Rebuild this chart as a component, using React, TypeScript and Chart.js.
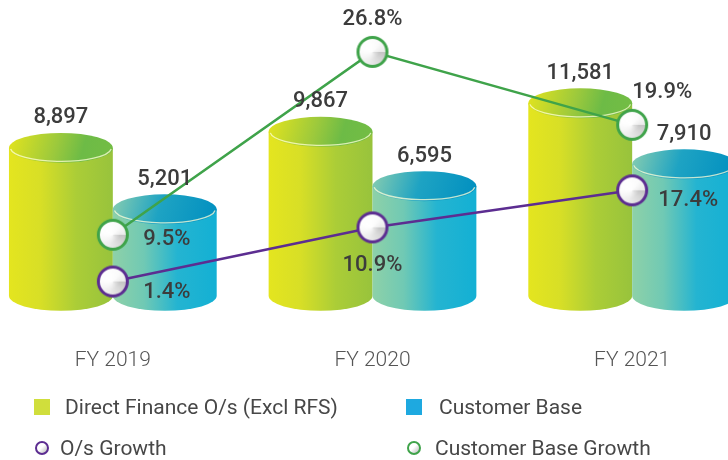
import React, { useEffect, useRef } from 'react';
import { Chart, registerables } from 'chart.js';

Chart.register(...registerables);

// ---------- data ----------
const categories = ['FY 2019', 'FY 2020', 'FY 2021'];
const directFinance = [8897, 9867, 11581];
const customerBase = [5201, 6595, 7910];
const osGrowth = [1.4, 10.9, 17.4];
const customerBaseGrowth = [9.5, 26.8, 19.9];
const seriesNames = [
  'Direct Finance O/s (Excl RFS)',
  'Customer Base',
  'O/s Growth',
  'Customer Base Growth',
];

// ---------- styles ----------
const FONT = 'Roboto, "Noto Sans", "DejaVu Sans", sans-serif';
const GREEN_LINE = '#3fa34a';
const PURPLE_LINE = '#5c2d91';
const LEGEND_GREEN = '#d0de3c';
const LEGEND_BLUE = '#1ea9e0';

const GREEN_BODY: [number, string][] = [[0, '#e4e51f'], [0.3, '#d8df26'], [0.65, '#abcd37'], [1, '#98c33c']];
const GREEN_CAP: [number, string][] = [[0, '#e4e41d'], [0.45, '#9cc93c'], [0.7, '#6dbb46'], [1, '#74bd44']];
const BLUE_BODY: [number, string][] = [[0, '#8ed1a8'], [0.3, '#70c9b4'], [0.62, '#24b4d1'], [1, '#13b0d4']];
const BLUE_CAP: [number, string][] = [[0, '#88cdb0'], [0.45, '#1ea3c3'], [1, '#008fc0']];

// label placement offsets relative to each point (layout only)
const osLabelOffsets = [[54, 11], [0, 38], [56, 10]];
const cbLabelOffsets = [[54, 5], [0, -32], [30, -32]];

function makeMarker(border: string): HTMLCanvasElement {
  const size = 36;
  const c = document.createElement('canvas');
  c.width = size;
  c.height = size;
  const ctx = c.getContext('2d') as CanvasRenderingContext2D;
  const cx = size / 2;
  const cy = size / 2;
  let fill: any = '#f0f0f0';
  if ((ctx as any).createConicGradient) {
    const g = (ctx as any).createConicGradient(0, cx, cy);
    g.addColorStop(0, '#c4c4c4');
    g.addColorStop(0.12, '#d6d6d6');
    g.addColorStop(0.3, '#ececec');
    g.addColorStop(0.55, '#ffffff');
    g.addColorStop(0.85, '#fafafa');
    g.addColorStop(1, '#ebebeb');
    fill = g;
  }
  ctx.beginPath();
  ctx.arc(cx, cy, 14.5, 0, Math.PI * 2);
  ctx.fillStyle = fill;
  ctx.fill();
  const rg = ctx.createRadialGradient(cx - 4, cy - 4, 1, cx - 4, cy - 4, 12);
  rg.addColorStop(0, 'rgba(255,255,255,0.9)');
  rg.addColorStop(1, 'rgba(255,255,255,0)');
  ctx.fillStyle = rg;
  ctx.fill();
  ctx.lineWidth = 3;
  ctx.strokeStyle = border;
  ctx.stroke();
  return c;
}

function drawCylinder(
  ctx: CanvasRenderingContext2D,
  x: number,
  top: number,
  base: number,
  w: number,
  body: [number, string][],
  cap: [number, string][]
) {
  const rx = w / 2;
  const ry = 15;
  const left = x - rx;
  const right = x + rx;
  ctx.save();
  const bg = ctx.createLinearGradient(left, 0, right, 0);
  body.forEach(([s, c]) => bg.addColorStop(s, c));
  ctx.beginPath();
  ctx.moveTo(left, top);
  ctx.lineTo(left, base);
  ctx.ellipse(x, base, rx, ry, 0, Math.PI, 0, true);
  ctx.lineTo(right, top);
  ctx.closePath();
  ctx.fillStyle = bg;
  ctx.fill();

  const cg = ctx.createLinearGradient(left, top - ry, right, top + ry);
  cap.forEach(([s, c]) => cg.addColorStop(s, c));
  ctx.beginPath();
  ctx.ellipse(x, top, rx, ry, 0, 0, Math.PI * 2);
  ctx.fillStyle = cg;
  ctx.fill();

  ctx.beginPath();
  ctx.ellipse(x, top, rx - 1.5, ry - 1.5, 0, 0.08, Math.PI - 0.08);
  ctx.strokeStyle = 'rgba(255,255,215,0.75)';
  ctx.lineWidth = 1.3;
  ctx.stroke();
  ctx.restore();
}

export default function App() {
  const ref = useRef<HTMLCanvasElement>(null);

  useEffect(() => {
    const canvas = ref.current;
    if (!canvas) return;
    const purpleMarker = makeMarker(PURPLE_LINE);
    const greenMarker = makeMarker(GREEN_LINE);

    const cylinderPlugin = {
      id: 'cylinders',
      beforeDatasetsDraw(chart: any) {
        const ctx = chart.ctx;
        [0, 1].forEach((di) => {
          const meta = chart.getDatasetMeta(di);
          meta.data.forEach((el: any) => {
            drawCylinder(
              ctx,
              el.x,
              el.y,
              el.base,
              el.width,
              di === 0 ? GREEN_BODY : BLUE_BODY,
              di === 0 ? GREEN_CAP : BLUE_CAP
            );
          });
        });
      },
    };

    const labelPlugin = {
      id: 'valueLabels',
      afterDatasetsDraw(chart: any) {
        const ctx = chart.ctx;
        ctx.save();
        ctx.font = `500 22px ${FONT}`;
        ctx.fillStyle = '#3c3c3c';
        ctx.textAlign = 'center';
        ctx.textBaseline = 'middle';
        [0, 1].forEach((di) => {
          const meta = chart.getDatasetMeta(di);
          meta.data.forEach((el: any, i: number) => {
            const v = chart.data.datasets[di].data[i] as number;
            ctx.fillText(v.toLocaleString('en-US'), el.x, el.y - 30);
          });
        });
        const lines: [number, number[][]][] = [
          [2, osLabelOffsets],
          [3, cbLabelOffsets],
        ];
        lines.forEach(([di, offs]) => {
          const meta = chart.getDatasetMeta(di);
          meta.data.forEach((el: any, i: number) => {
            const v = chart.data.datasets[di].data[i] as number;
            ctx.fillText(v.toFixed(1) + '%', el.x + offs[i][0], el.y + offs[i][1]);
          });
        });
        ctx.restore();
      },
    };

    const chart = new Chart(canvas, {
      type: 'bar',
      data: {
        labels: categories,
        datasets: [
          {
            type: 'bar',
            label: seriesNames[0],
            data: directFinance,
            backgroundColor: 'rgba(0,0,0,0)',
            borderWidth: 0,
            yAxisID: 'y',
            barPercentage: 1,
            categoryPercentage: 0.8,
            order: 3,
          },
          {
            type: 'bar',
            label: seriesNames[1],
            data: customerBase,
            backgroundColor: 'rgba(0,0,0,0)',
            borderWidth: 0,
            yAxisID: 'y',
            barPercentage: 1,
            categoryPercentage: 0.8,
            order: 3,
          },
          {
            type: 'line',
            label: seriesNames[2],
            data: osGrowth,
            borderColor: PURPLE_LINE,
            borderWidth: 2.5,
            pointStyle: purpleMarker as any,
            pointRadius: 16,
            tension: 0,
            fill: false,
            clip: false,
            yAxisID: 'yP',
            order: 1,
          },
          {
            type: 'line',
            label: seriesNames[3],
            data: customerBaseGrowth,
            borderColor: GREEN_LINE,
            borderWidth: 2.5,
            pointStyle: greenMarker as any,
            pointRadius: 16,
            tension: 0,
            fill: false,
            clip: false,
            yAxisID: 'yG',
            order: 2,
          },
        ],
      } as any,
      options: {
        responsive: false,
        animation: false,
        events: [],
        layout: { autoPadding: false, padding: { left: 0, right: 0, top: 0, bottom: 35 } },
        plugins: {
          legend: { display: false },
          tooltip: { enabled: false },
        },
        scales: {
          x: {
            grid: { display: false, drawTicks: false },
            border: { display: false },
            ticks: {
              padding: 52,
              color: '#555555',
              font: { family: FONT, size: 21, weight: '300' as any },
            },
          },
          y: { type: 'linear', display: false, min: 0, max: 17800 },
          yP: { type: 'linear', display: false, min: -1.1, max: 50.8, position: 'right' },
          yG: { type: 'linear', display: false, min: 3.73, max: 31.71, position: 'right' },
        },
      } as any,
      plugins: [cylinderPlugin, labelPlugin],
    });

    return () => {
      chart.destroy();
    };
  }, []);

  const textStyle: React.CSSProperties = {
    fontFamily: FONT,
    fontSize: 21,
    color: '#474747',
    whiteSpace: 'nowrap',
    lineHeight: '24px',
  };
  const row = (top: number, left: number): React.CSSProperties => ({
    position: 'absolute',
    top,
    left,
    height: 30,
    display: 'flex',
    alignItems: 'center',
  });
  const circle = (color: string): React.CSSProperties => ({
    width: 10,
    height: 10,
    borderRadius: '50%',
    border: `2px solid ${color}`,
    background: 'linear-gradient(135deg, #ffffff 45%, #b9b9b9 100%)',
    flex: 'none',
  });

  return (
    <div
      style={{
        position: 'fixed',
        left: 0,
        top: 0,
        width: 728,
        height: 460,
        overflow: 'hidden',
        background: '#ffffff',
      }}
    >
      <canvas
        ref={ref}
        width={779}
        height={460}
        style={{ position: 'absolute', left: -17, top: 0, display: 'block' }}
      />
      <div style={row(392, 34)}>
        <span style={{ width: 16, height: 16, background: LEGEND_GREEN, flex: 'none' }} />
        <span style={{ ...textStyle, marginLeft: 15 }}>{seriesNames[0]}</span>
      </div>
      <div style={row(392, 406)}>
        <span style={{ width: 16, height: 16, background: LEGEND_BLUE, flex: 'none' }} />
        <span style={{ ...textStyle, marginLeft: 17 }}>{seriesNames[1]}</span>
      </div>
      <div style={row(433, 35)}>
        <span style={circle(PURPLE_LINE)} />
        <span style={{ ...textStyle, marginLeft: 11 }}>{seriesNames[2]}</span>
      </div>
      <div style={row(433, 407)}>
        <span style={circle(GREEN_LINE)} />
        <span style={{ ...textStyle, marginLeft: 14 }}>{seriesNames[3]}</span>
      </div>
    </div>
  );
}
